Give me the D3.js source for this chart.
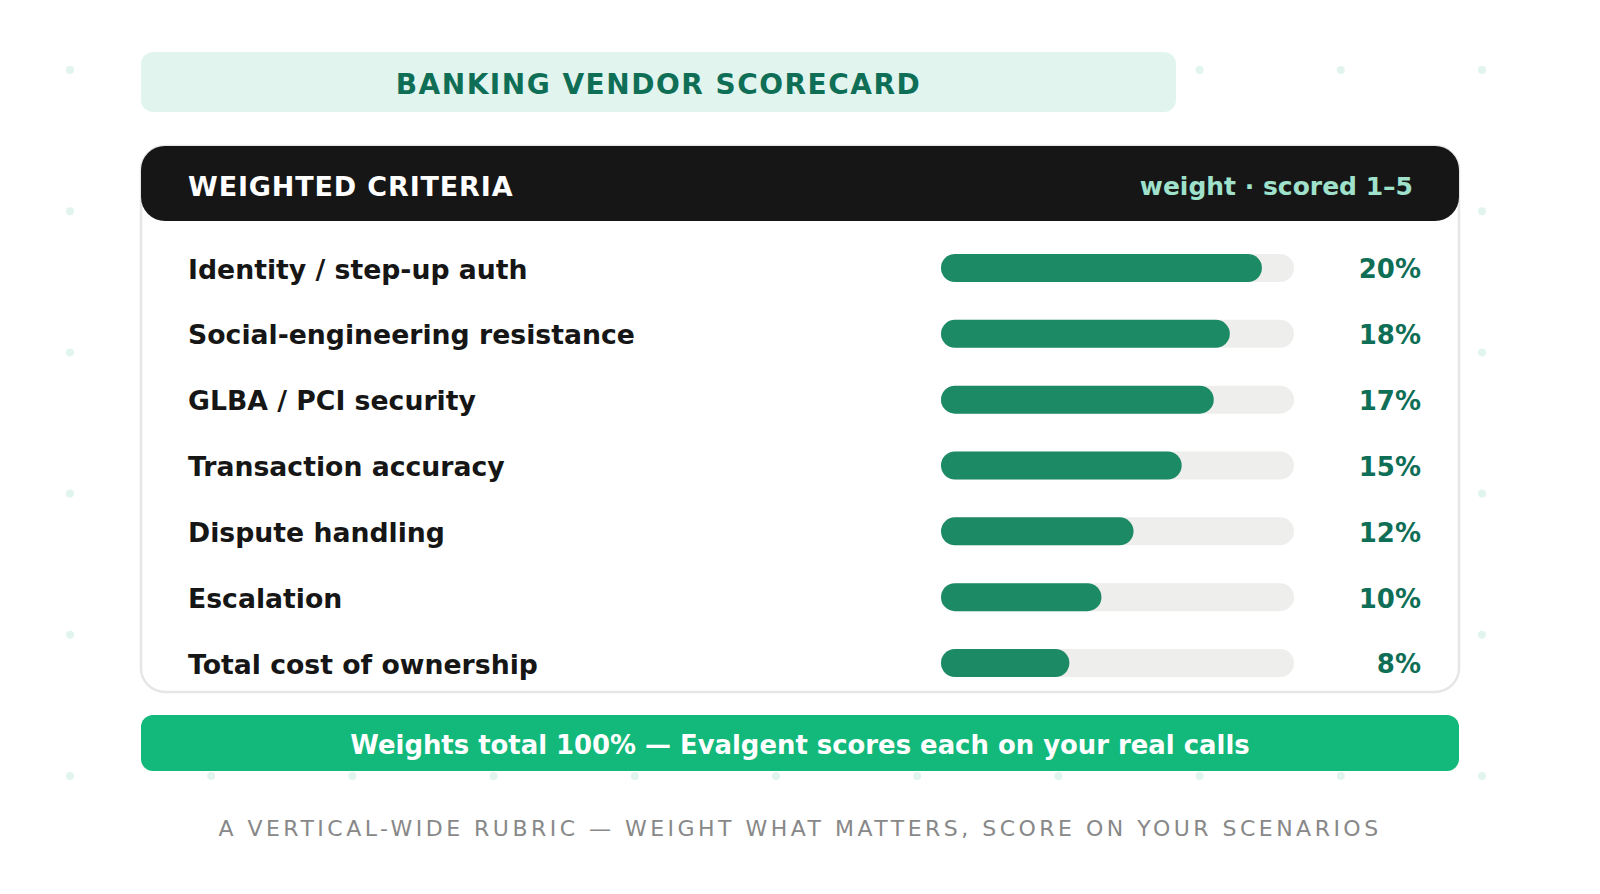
<!DOCTYPE html>
<html>
<head>
<meta charset="utf-8">
<script src="https://cdn.jsdelivr.net/npm/d3@7/dist/d3.min.js"></script>
<style>
  html, body { margin: 0; padding: 0; background: #ffffff; }
  svg { display: block; font-family: "DejaVu Sans", sans-serif; }
</style>
</head>
<body>
<svg id="chart" width="1600" height="894"></svg>
<script>
// ---- data ----
const title = "BANKING VENDOR SCORECARD";
const headerLeft = "WEIGHTED CRITERIA";
const headerRight = "weight · scored 1–5";
const categories = [
  "Identity / step-up auth",
  "Social-engineering resistance",
  "GLBA / PCI security",
  "Transaction accuracy",
  "Dispute handling",
  "Escalation",
  "Total cost of ownership"
];
const weights = [20, 18, 17, 15, 12, 10, 8];
const footerText = "Weights total 100% — Evalgent scores each on your real calls";
const subtitle = "A VERTICAL-WIDE RUBRIC — WEIGHT WHAT MATTERS, SCORE ON YOUR SCENARIOS";

// ---- layout ----
const svg = d3.select("#chart");
const W = 1600, H = 894;
const cardX = 141, cardW = 1318;

// background dot grid
const dotX = d3.range(11).map(i => 70 + i * 141.2);
const dotY = d3.range(6).map(i => 70 + i * 141.2);
const dots = svg.append("g");
dotY.forEach(y => dotX.forEach(x => {
  dots.append("circle").attr("cx", x).attr("cy", y).attr("r", 4).attr("fill", "#e1f5ee");
}));

// title band
svg.append("rect").attr("x", cardX).attr("y", 52).attr("width", 1035).attr("height", 60)
  .attr("rx", 12).attr("fill", "#e1f5ee");
svg.append("text").attr("x", cardX + 1035 / 2).attr("y", 84).attr("dy", "0.36em")
  .attr("text-anchor", "middle").attr("font-size", 28).attr("font-weight", "bold")
  .attr("letter-spacing", 1.5).attr("fill", "#0f6e56").text(title);

// card
svg.append("rect").attr("x", cardX).attr("y", 146).attr("width", cardW).attr("height", 546)
  .attr("rx", 24).attr("fill", "#ffffff").attr("stroke", "#e6e6e6").attr("stroke-width", 2.5);
svg.append("rect").attr("x", cardX).attr("y", 146).attr("width", cardW).attr("height", 75)
  .attr("rx", 24).attr("fill", "#161616");
svg.append("text").attr("x", 188).attr("y", 186).attr("dy", "0.36em")
  .attr("font-size", 27).attr("font-weight", "bold").attr("letter-spacing", 0.85)
  .attr("fill", "#ffffff").text(headerLeft);
svg.append("text").attr("x", 1413).attr("y", 186).attr("dy", "0.36em")
  .attr("text-anchor", "end").attr("font-size", 25).attr("font-weight", "bold")
  .attr("fill", "#9fe1cb").text(headerRight);

// scales
const y = d3.scalePoint().domain(categories).range([268, 663]);
const x = d3.scaleLinear().domain([0, 22]).range([941, 1294]);
const barH = 28;

const rows = svg.append("g").selectAll("g").data(categories).join("g")
  .attr("transform", d => `translate(0,${y(d)})`);

rows.append("text").attr("x", 188).attr("y", 1).attr("dy", "0.36em")
  .attr("font-size", 26.7).attr("font-weight", "bold").attr("fill", "#161616")
  .text(d => d);

rows.append("rect").attr("x", x(0)).attr("y", -barH / 2)
  .attr("width", x.range()[1] - x(0)).attr("height", barH)
  .attr("rx", barH / 2).attr("fill", "#eeeeec");

rows.append("rect").attr("x", x(0)).attr("y", -barH / 2)
  .attr("width", (d, i) => x(weights[i]) - x(0)).attr("height", barH)
  .attr("rx", barH / 2).attr("fill", "#1d8a66");

rows.append("text").attr("x", 1421).attr("y", 1).attr("dy", "0.36em").attr("text-anchor", "end")
  .attr("font-size", 26).attr("font-weight", "bold").attr("fill", "#0f6e56")
  .text((d, i) => weights[i] + "%");

// footer band
svg.append("rect").attr("x", cardX).attr("y", 715).attr("width", cardW).attr("height", 56)
  .attr("rx", 12).attr("fill", "#13b87b");
svg.append("text").attr("x", W / 2).attr("y", 745).attr("dy", "0.36em")
  .attr("text-anchor", "middle").attr("font-size", 25.9).attr("font-weight", "bold")
  .attr("fill", "#ffffff").text(footerText);

// subtitle
svg.append("text").attr("x", W / 2).attr("y", 836)
  .attr("text-anchor", "middle").attr("font-size", 22).attr("letter-spacing", 3.48)
  .attr("fill", "#888888").text(subtitle);
</script>
</body>
</html>
